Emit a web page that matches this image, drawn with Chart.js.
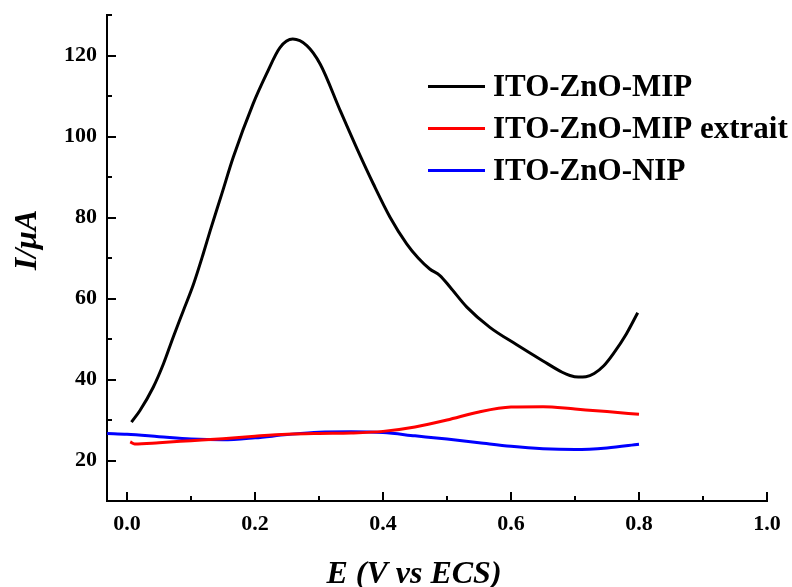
<!DOCTYPE html>
<html>
<head>
<meta charset="utf-8">
<script src="https://cdn.jsdelivr.net/npm/chart.js@4/dist/chart.umd.min.js"></script>
<style>
    body { margin: 0; background: #fff; }
    #chart { display: block; }
</style>
</head>
<body>
<canvas id="chart" width="792" height="587"></canvas>
<script>
// Series (E in V vs ECS, I in µA)
const seriesLabels = ['ITO-ZnO-MIP', 'ITO-ZnO-MIP extrait', 'ITO-ZnO-NIP'];
const seriesColors = ['#000000', '#ff0000', '#0000ff'];

const eMip = [0.007, 0.02, 0.041, 0.057, 0.072, 0.088, 0.104, 0.119, 0.13, 0.148, 0.166, 0.197, 0.218,
    0.239, 0.259, 0.281, 0.302, 0.333, 0.36, 0.385, 0.411, 0.437, 0.455, 0.473, 0.489, 0.505, 0.531,
    0.567, 0.609, 0.65, 0.68, 0.692, 0.705, 0.717, 0.73, 0.745, 0.76, 0.78, 0.798];
const iMip = [29.5, 32.3, 38.1, 43.9, 50.4, 57, 63.6, 71, 76.8, 85.8, 94.9, 108.1, 115.5,
    122, 124.1, 122.5, 117.9, 106.5, 96.8, 88.3, 80.1, 73.5, 70, 67.3, 65.7, 62.8, 57.9,
    52.9, 48.6, 44.6, 41.8, 41, 40.6, 40.7, 41.5, 43.4, 46.4, 51.2, 56.5];

const eExtrait = [0.005, 0.012, 0.05, 0.1, 0.15, 0.2, 0.25, 0.3, 0.35, 0.4, 0.45, 0.5, 0.55, 0.6,
    0.65, 0.7, 0.75, 0.8];
const iExtrait = [24.6, 24.1, 24.4, 24.9, 25.4, 26, 26.5, 26.7, 26.8, 27.2, 28.3, 30, 32, 33.2,
    33.3, 32.7, 32.1, 31.4];

const eNip = [-0.031, 0, 0.05, 0.1, 0.15, 0.2, 0.25, 0.3, 0.35, 0.4, 0.45, 0.5, 0.55, 0.6, 0.65,
    0.7, 0.75, 0.8];
const iNip = [26.7, 26.5, 25.9, 25.3, 25.1, 25.6, 26.4, 27, 27.1, 26.9, 26.1, 25.3, 24.4, 23.5, 22.9,
    22.7, 23.1, 24];

const xTicks = [0, 0.1, 0.2, 0.3, 0.4, 0.5, 0.6, 0.7, 0.8, 0.9, 1.0];
const yTicks = [10, 20, 30, 40, 50, 60, 70, 80, 90, 100, 110, 120, 130];

const xTitle = 'E (V vs ECS)';
const yTitle = 'I/\u03bcA';

const serif = "'Liberation Serif', 'Times New Roman', serif";

function toPoints(xs, ys) {
    return xs.map((x, i) => ({ x: x, y: ys[i] }));
}

// inward tick marks, longer on labelled ticks
const innerTicks = {
    id: 'innerTicks',
    afterDraw(chart) {
        const ctx = chart.ctx;
        const xs = chart.scales.x;
        const ys = chart.scales.y;
        ctx.save();
        ctx.strokeStyle = '#000';
        ctx.lineWidth = 2;
        xs.ticks.forEach(t => {
            const px = Math.round(xs.getPixelForValue(t.value));
            const len = Math.round(t.value * 10) % 2 === 0 ? 9 : 5;
            ctx.beginPath();
            ctx.moveTo(px, xs.top);
            ctx.lineTo(px, xs.top - len);
            ctx.stroke();
        });
        ys.ticks.forEach(t => {
            const py = Math.round(ys.getPixelForValue(t.value));
            const len = t.value % 20 === 0 ? 9 : 5;
            ctx.beginPath();
            ctx.moveTo(ys.right, py);
            ctx.lineTo(ys.right + len, py);
            ctx.stroke();
        });
        ctx.restore();
    }
};

// axis titles placed like the original figure
const axisTitles = {
    id: 'axisTitles',
    afterDraw(chart) {
        const ctx = chart.ctx;
        ctx.save();
        ctx.fillStyle = '#000';
        ctx.font = 'italic bold 32px ' + serif;
        ctx.textAlign = 'center';
        ctx.textBaseline = 'alphabetic';
        ctx.fillText(xTitle, 414, 583);
        ctx.translate(36, 240);
        ctx.rotate(-Math.PI / 2);
        ctx.fillText(yTitle, 0, 0);
        ctx.restore();
    }
};

const lineLegend = {
    id: 'lineLegend',
    afterDraw(chart) {
        const ctx = chart.ctx;
        ctx.save();
        ctx.font = 'bold 31px ' + serif;
        ctx.textAlign = 'left';
        ctx.textBaseline = 'alphabetic';
        chart.data.datasets.forEach((ds, i) => {
            const y = 86.5 + i * 42;
            ctx.strokeStyle = ds.borderColor;
            ctx.lineWidth = 3;
            ctx.beginPath();
            ctx.moveTo(428, y);
            ctx.lineTo(485, y);
            ctx.stroke();
            ctx.fillStyle = '#000';
            ctx.fillText(ds.label, 493, y + 9);
        });
        ctx.restore();
    }
};

const datasets = [
    { label: seriesLabels[0], data: toPoints(eMip, iMip), borderColor: seriesColors[0] },
    { label: seriesLabels[1], data: toPoints(eExtrait, iExtrait), borderColor: seriesColors[1] },
    { label: seriesLabels[2], data: toPoints(eNip, iNip), borderColor: seriesColors[2] }
].map(d => Object.assign(d, {
    showLine: true,
    borderWidth: 3,
    pointRadius: 0,
    cubicInterpolationMode: 'monotone',
    fill: false
}));

new Chart(document.getElementById('chart').getContext('2d'), {
    type: 'scatter',
    data: { datasets: datasets },
    options: {
        responsive: false,
        animation: false,
        layout: { padding: { top: 8, right: 25, left: 0, bottom: 0 } },
        plugins: {
            legend: { display: false },
            tooltip: { enabled: false }
        },
        scales: {
            x: {
                type: 'linear',
                min: -0.03125,
                max: 1.0,
                afterBuildTicks: s => { s.ticks = xTicks.map(v => ({ value: v })); },
                afterFit: s => { s.height = 86; },
                grid: { display: false },
                border: { display: true, color: '#000', width: 2 },
                ticks: {
                    autoSkip: false,
                    maxRotation: 0,
                    padding: 2,
                    color: '#000',
                    font: { family: serif, size: 22, weight: 'bold' },
                    callback: v => Math.round(v * 10) % 2 === 0 ? v.toFixed(1) : ''
                }
            },
            y: {
                type: 'linear',
                min: 10,
                max: 130,
                afterBuildTicks: s => { s.ticks = yTicks.map(v => ({ value: v })); },
                afterFit: s => { s.width = 107; },
                grid: { display: false },
                border: { display: true, color: '#000', width: 2 },
                ticks: {
                    autoSkip: false,
                    padding: 2,
                    color: '#000',
                    font: { family: serif, size: 22, weight: 'bold' },
                    callback: v => v % 20 === 0 ? String(v) : ''
                }
            }
        }
    },
    plugins: [innerTicks, axisTitles, lineLegend]
});
</script>
</body>
</html>
